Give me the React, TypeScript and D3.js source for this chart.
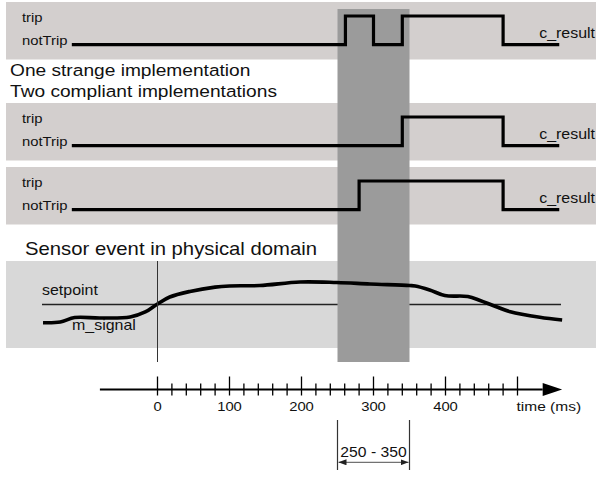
import React from "react";
import * as d3 from "d3";

const W = 596;
const H = 478;

// Output levels of the c_result traces
const levelNames = ["notTrip", "trip"];

// Step traces: [time (ms), level]  0 = notTrip, 1 = trip
const strangeTrace: [number, number][] = [
  [-119, 0], [261, 1], [300, 0], [340, 1], [480, 0], [558, 0],
];
const compliantTraceA: [number, number][] = [
  [-119, 0], [340, 1], [480, 0], [558, 0],
];
const compliantTraceB: [number, number][] = [
  [-119, 0], [280, 1], [480, 0], [558, 0],
];

// Physical sensor signal m_signal (time ms, value), setpoint at 50
const signalTime = [-159, -135, -115, -80, -38, -17, 0, 17, 45, 80, 100, 142, 198, 249, 295, 350, 358, 378, 399, 431, 448, 466, 490, 531, 562];
const signalValue = [29.1, 29.9, 35, 34.5, 35.6, 41.4, 50.6, 58.6, 65, 70, 71.3, 71.8, 75.9, 75.3, 73.6, 71.8, 71.3, 66.7, 60.3, 59.2, 54.6, 48.9, 41.7, 35.3, 32.2];
const setpoint = 50;

// Response window and time axis
const eventWindow = [250, 350];
const tickValues = d3.range(0, 501, 20);
const tickLabels = ["0", "100", "200", "300", "400"];
const axisLabel = "time (ms)";

const SX = 1.14;
const FONT = "'Liberation Sans', Arial, Helvetica, sans-serif";
const INK = "#111";

function Label({ x, y, size, anchor = "start", children }: any) {
  return (
    <text
      transform={`translate(${x},${y}) scale(${SX},1)`}
      fontSize={size}
      textAnchor={anchor}
      fill={INK}
      fontFamily={FONT}
    >
      {children}
    </text>
  );
}

export default function App() {
  const x = d3.scaleLinear().domain([0, 500]).range([157.5, 517.5]);
  const sy = d3.scaleLinear().domain([0, 100]).range([348, 261]);

  const panelTops = [2, 103, 167];
  const panelH = 57.5;
  const traces = [strangeTrace, compliantTraceA, compliantTraceB];

  const signalLine = d3
    .line<number>()
    .x((_, i) => x(signalTime[i]))
    .y((v) => sy(v))
    .curve(d3.curveCatmullRom.alpha(0.5));

  const [w0, w1] = eventWindow;

  return (
    <svg
      width={W}
      height={H}
      viewBox={`0 0 ${W} ${H}`}
      style={{ position: "absolute", left: 0, top: 0, background: "#fff" }}
    >
      <defs>
        <marker id="ah" viewBox="0 0 8 6" refX="8" refY="3" markerWidth="8" markerHeight="6" orient="auto-start-reverse" markerUnits="userSpaceOnUse">
          <path d="M0,0 L8,3 L0,6 Z" fill="#222" />
        </marker>
      </defs>

      {/* digital output panels */}
      {panelTops.map((t, i) => (
        <rect key={`p${i}`} x={6} y={t} width={W - 6} height={panelH} fill="#d3cfce" />
      ))}
      {/* physical domain panel */}
      <rect x={6} y={261} width={W - 6} height={87} fill="#d8d8d8" />
      <line x1={42} x2={561} y1={sy(setpoint)} y2={sy(setpoint)} stroke="#222" strokeWidth={1.3} />

      {/* 250–350 ms window */}
      <rect x={x(w0)} y={9} width={x(w1) - x(w0)} height={353} fill="#9b9b9b" />

      {traces.map((tr, i) => {
        const t = panelTops[i];
        const ly = d3.scaleLinear().domain([0, 1]).range([t + 42.6, t + 14]);
        const path = d3
          .line<[number, number]>()
          .x((d) => x(d[0]))
          .y((d) => ly(d[1]))
          .curve(d3.curveStepAfter)(tr);
        return (
          <g key={`tr${i}`}>
            <path d={path || ""} fill="none" stroke="#000" strokeWidth={3.2} strokeLinejoin="miter" />
            <Label x={22} y={t + 20.3} size={13}>{levelNames[1]}</Label>
            <Label x={22} y={t + 43.3} size={13}>{levelNames[0]}</Label>
            <Label x={595} y={t + 35.5} size={14} anchor="end">c_result</Label>
          </g>
        );
      })}

      <Label x={10} y={76} size={16.8}>One strange implementation</Label>
      <Label x={10} y={97} size={16.8}>Two compliant implementations</Label>
      <Label x={25} y={254.5} size={17.8}>Sensor event in physical domain</Label>

      {/* sensor signal */}
      <path d={signalLine(signalValue) || ""} fill="none" stroke="#000" strokeWidth={3.6} />
      <Label x={42} y={295} size={14}>setpoint</Label>
      <Label x={72} y={330} size={14}>m_signal</Label>
      <line x1={x(0)} x2={x(0)} y1={261} y2={362} stroke="#333" strokeWidth={1} />

      {/* time axis */}
      <line x1={x(-80)} x2={x(535)} y1={389.5} y2={389.5} stroke="#000" strokeWidth={2} />
      <path
        d={`M${x(535)},383 L${x(562)},389.5 L${x(535)},396 Z`}
        fill="#000"
      />
      {tickValues.map((t) => {
        const major = t % 100 === 0;
        return (
          <line
            key={`tk${t}`}
            x1={x(t)}
            x2={x(t)}
            y1={major ? 376.5 : 383.5}
            y2={395.5}
            stroke="#000"
            strokeWidth={1.3}
          />
        );
      })}
      {tickLabels.map((l, i) => (
        <Label key={`tl${i}`} x={x(i * 100)} y={411} size={13} anchor="middle">{l}</Label>
      ))}
      <Label x={x(500) - 1} y={411} size={13.6}>{axisLabel}</Label>

      {/* window bracket */}
      <line x1={x(w0)} x2={x(w0)} y1={420} y2={470} stroke="#333" strokeWidth={1.2} />
      <line x1={x(w1)} x2={x(w1)} y1={420} y2={470} stroke="#333" strokeWidth={1.2} />
      <line
        x1={x(w0) + 1}
        x2={x(w1) - 1}
        y1={462.3}
        y2={462.3}
        stroke="#222"
        strokeWidth={0.8}
        markerStart="url(#ah)"
        markerEnd="url(#ah)"
      />
      <Label x={(x(w0) + x(w1)) / 2} y={456.5} size={13.8} anchor="middle">{`${w0} - ${w1}`}</Label>
    </svg>
  );
}
